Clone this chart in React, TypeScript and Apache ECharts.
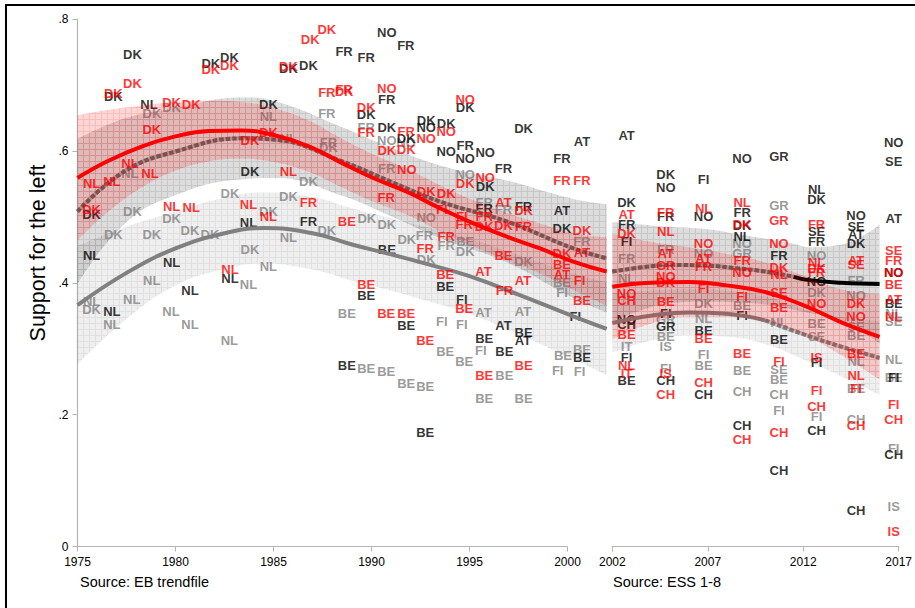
import React, { useEffect, useRef } from 'react';
import * as echarts from 'echarts';

type Pt = [number, number, string];

const FONT = '"Liberation Sans", Arial, sans-serif';

const yTicks = [0, 0.2, 0.4, 0.6, 0.8];
const ebTicks = [1975, 1980, 1985, 1990, 1995, 2000];
const essTicks = [2002, 2007, 2012, 2017];

// ---------- fitted curves (EB panel) ----------
const ebRedYears = [1975, 1976.5, 1978.3, 1980, 1981.7, 1983.4, 1985, 1986.8, 1988.4, 1990, 1991.8, 1993.5, 1995.2, 1996.9, 1998.6, 2000.3, 2002];
const ebRedFit = [0.559, 0.584, 0.607, 0.622, 0.63, 0.631, 0.624, 0.607, 0.583, 0.56, 0.538, 0.513, 0.49, 0.47, 0.452, 0.432, 0.417];
const ebRedHalf = [0.095, 0.078, 0.062, 0.052, 0.046, 0.043, 0.041, 0.039, 0.037, 0.036, 0.035, 0.035, 0.035, 0.036, 0.038, 0.043, 0.052];

const ebBlackYears = [1975, 1977.4, 1980, 1983.4, 1985.1, 1988.5, 1991, 1993.5, 1996.9, 2000.3, 2002];
const ebBlackFit = [0.508, 0.569, 0.599, 0.619, 0.617, 0.584, 0.553, 0.523, 0.493, 0.452, 0.437];
const ebBlackHalf = [0.11, 0.08, 0.066, 0.062, 0.058, 0.052, 0.052, 0.055, 0.062, 0.075, 0.082];

const ebGrayYears = [1975, 1977.5, 1980, 1982.5, 1984.5, 1987, 1989, 1991, 1993, 1995, 1997.5, 2000.3, 2002];
const ebGrayFit = [0.366, 0.415, 0.452, 0.475, 0.483, 0.475, 0.458, 0.443, 0.427, 0.41, 0.382, 0.349, 0.33];
const ebGrayHalf = [0.09, 0.07, 0.056, 0.054, 0.054, 0.055, 0.055, 0.055, 0.056, 0.057, 0.06, 0.065, 0.07];

// ---------- fitted curves (ESS panel) ----------
const essRedYears = [2002, 2004, 2006, 2008, 2010, 2012, 2014, 2016];
const essRedFit = [0.394, 0.4, 0.401, 0.396, 0.386, 0.366, 0.34, 0.318];
const essRedHalf = [0.08, 0.062, 0.053, 0.048, 0.045, 0.045, 0.05, 0.065];

const essBlackYears = [2002, 2004, 2005, 2007, 2008.5, 2010, 2011.5, 2012.3, 2014, 2016];
const essBlackFit = [0.417, 0.425, 0.427, 0.426, 0.422, 0.417, 0.409, 0.404, 0.4, 0.398];
const essBlackHalf = [0.075, 0.062, 0.058, 0.055, 0.052, 0.05, 0.05, 0.05, 0.058, 0.09];

const essGrayYears = [2002, 2004, 2006, 2008, 2010, 2012, 2014, 2016];
const essGrayFit = [0.339, 0.35, 0.355, 0.353, 0.343, 0.322, 0.303, 0.286];
const essGrayHalf = [0.045, 0.038, 0.035, 0.035, 0.036, 0.038, 0.045, 0.056];

// ---------- country labels (EB panel) ----------
const ebBlack: Pt[] = [
  [1977.8, 0.746, 'DK'], [1976.83, 0.683, 'DK'], [1978.65, 0.67, 'NL'], [1981.8, 0.733, 'DK'], [1982.75, 0.741, 'DK'],
  [1985.76, 0.725, 'DK'], [1986.78, 0.73, 'DK'], [1988.6, 0.751, 'FR'], [1984.74, 0.671, 'DK'], [1983.8, 0.569, 'DK'],
  [1975.72, 0.503, 'DK'], [1983.72, 0.492, 'NL'], [1986.78, 0.493, 'FR'], [1975.72, 0.442, 'NL'], [1979.8, 0.43, 'NL'],
  [1982.78, 0.407, 'NL'], [1980.74, 0.388, 'NL'], [1976.75, 0.356, 'NL'], [1988.74, 0.275, 'BE'], [1989.73, 0.38, 'BE'],
  [1991.77, 0.335, 'BE'], [1992.74, 0.173, 'BE'], [1993.76, 0.394, 'BE'], [1994.61, 0.375, 'FI'], [1995.75, 0.316, 'BE'],
  [1996.73, 0.335, 'AT'], [1996.78, 0.296, 'BE'], [1997.76, 0.324, 'BE'], [1997.73, 0.312, 'AT'], [2000.4, 0.349, 'FI'],
  [2000.74, 0.287, 'BE'], [1990.78, 0.78, 'NO'], [1991.75, 0.76, 'FR'], [1989.73, 0.741, 'FR'], [1990.78, 0.678, 'FR'],
  [1989.73, 0.655, 'DK'], [1990.78, 0.636, 'DK'], [1991.77, 0.619, 'DK'], [1992.79, 0.646, 'DK'], [1992.79, 0.636, 'NO'],
  [1993.81, 0.641, 'DK'], [1993.81, 0.599, 'NO'], [1994.78, 0.608, 'FR'], [1994.78, 0.589, 'NO'], [1995.8, 0.598, 'NO'],
  [1996.73, 0.573, 'FR'], [1995.8, 0.546, 'DK'], [1997.76, 0.634, 'DK'], [1994.78, 0.666, 'DK'], [2000.74, 0.614, 'AT'],
  [1999.72, 0.589, 'FR'], [1999.72, 0.509, 'AT'], [1999.72, 0.483, 'DK'], [1997.76, 0.516, 'FR'], [1995.75, 0.512, 'FR'],
  [1990.78, 0.45, 'BE'],
];

const ebRed: Pt[] = [
  [1977.8, 0.702, 'DK'], [1976.83, 0.687, 'DK'], [1979.8, 0.673, 'DK'], [1980.8, 0.671, 'DK'], [1978.79, 0.632, 'DK'],
  [1981.8, 0.723, 'DK'], [1982.75, 0.73, 'DK'], [1985.76, 0.728, 'DK'], [1986.87, 0.769, 'DK'], [1987.72, 0.784, 'DK'],
  [1987.72, 0.688, 'FR'], [1988.6, 0.693, 'FR'], [1988.6, 0.69, 'DK'], [1984.74, 0.628, 'DK'], [1983.8, 0.615, 'DK'],
  [1977.68, 0.581, 'NL'], [1975.72, 0.551, 'NL'], [1976.75, 0.554, 'NL'], [1978.7, 0.565, 'NL'], [1985.76, 0.569, 'NL'],
  [1986.78, 0.521, 'FR'], [1975.72, 0.511, 'DK'], [1979.8, 0.516, 'NL'], [1980.8, 0.514, 'NL'], [1983.72, 0.518, 'NL'],
  [1984.74, 0.5, 'NL'], [1988.74, 0.493, 'BE'], [1982.78, 0.42, 'NL'], [1989.73, 0.397, 'BE'], [1990.75, 0.354, 'BE'],
  [1991.77, 0.354, 'BE'], [1992.74, 0.312, 'BE'], [1993.76, 0.412, 'BE'], [1994.73, 0.361, 'BE'], [1995.75, 0.259, 'BE'],
  [1995.71, 0.417, 'AT'], [1996.78, 0.388, 'FR'], [1997.73, 0.403, 'AT'], [1997.76, 0.275, 'BE'], [1999.72, 0.412, 'AT'],
  [2000.62, 0.404, 'FI'], [2000.74, 0.373, 'BE'], [1990.78, 0.695, 'NO'], [1989.73, 0.666, 'DK'], [1989.73, 0.628, 'FR'],
  [1990.78, 0.6, 'DK'], [1991.77, 0.63, 'FR'], [1991.77, 0.602, 'DK'], [1991.8, 0.571, 'NO'], [1992.79, 0.619, 'NO'],
  [1993.81, 0.63, 'NO'], [1990.75, 0.529, 'FR'], [1992.74, 0.452, 'FR'], [1992.79, 0.538, 'DK'], [1993.81, 0.535, 'DK'],
  [1993.59, 0.511, 'FI'], [1994.61, 0.5, 'FI'], [1994.73, 0.488, 'FR'], [1993.81, 0.47, 'FR'], [1994.78, 0.678, 'NO'],
  [1994.78, 0.55, 'DK'], [1995.8, 0.559, 'NO'], [1999.72, 0.555, 'FR'], [2000.74, 0.555, 'FR'], [2000.74, 0.48, 'DK'],
  [1999.72, 0.445, 'DK'], [2000.74, 0.446, 'AT'], [1999.72, 0.428, 'BE'], [1997.76, 0.485, 'FR'], [1996.73, 0.487, 'DK'],
  [1995.75, 0.485, 'DK'], [1995.75, 0.5, 'FR'], [1997.76, 0.509, 'DK'], [1996.73, 0.521, 'AT'], [1996.73, 0.442, 'BE'],
];

const ebGray: Pt[] = [
  [1978.8, 0.657, 'DK'], [1979.8, 0.666, 'DK'], [1984.74, 0.652, 'NL'], [1987.72, 0.657, 'FR'], [1985.76, 0.619, 'NL'],
  [1987.8, 0.612, 'FR'], [1987.8, 0.605, 'DK'], [1977.68, 0.566, 'NL'], [1986.78, 0.554, 'DK'], [1982.78, 0.536, 'DK'],
  [1985.76, 0.531, 'DK'], [1977.8, 0.508, 'DK'], [1979.8, 0.498, 'DK'], [1984.74, 0.508, 'DK'], [1976.83, 0.473, 'DK'],
  [1978.79, 0.473, 'DK'], [1980.74, 0.48, 'DK'], [1981.76, 0.473, 'DK'], [1987.72, 0.48, 'DK'], [1985.76, 0.468, 'NL'],
  [1983.8, 0.45, 'DK'], [1984.74, 0.425, 'NL'], [1978.79, 0.404, 'NL'], [1983.72, 0.398, 'NL'], [1977.77, 0.374, 'NL'],
  [1975.72, 0.36, 'DK'], [1975.72, 0.371, 'NL'], [1976.75, 0.336, 'NL'], [1979.77, 0.356, 'NL'], [1980.74, 0.336, 'NL'],
  [1982.75, 0.312, 'NL'], [1988.74, 0.354, 'BE'], [1989.73, 0.27, 'BE'], [1990.75, 0.265, 'BE'], [1991.77, 0.247, 'BE'],
  [1992.74, 0.242, 'BE'], [1993.59, 0.341, 'FI'], [1993.76, 0.296, 'BE'], [1994.61, 0.336, 'FI'], [1994.73, 0.28, 'BE'],
  [1995.71, 0.355, 'AT'], [1995.58, 0.297, 'FI'], [1995.75, 0.225, 'BE'], [1996.78, 0.259, 'BE'], [1997.73, 0.356, 'AT'],
  [1997.76, 0.225, 'BE'], [1999.72, 0.4, 'BE'], [1999.72, 0.385, 'FI'], [1999.77, 0.289, 'BE'], [1999.5, 0.267, 'FI'],
  [2000.74, 0.299, 'BE'], [2000.62, 0.265, 'FI'], [1989.73, 0.636, 'FR'], [1990.78, 0.615, 'NO'], [1990.78, 0.574, 'FR'],
  [1989.76, 0.498, 'DK'], [1990.78, 0.488, 'DK'], [1991.8, 0.465, 'DK'], [1992.7, 0.471, 'FR'], [1992.79, 0.435, 'DK'],
  [1992.79, 0.499, 'NO'], [1993.81, 0.457, 'FR'], [1994.78, 0.462, 'BE'], [1994.78, 0.447, 'DK'], [1994.78, 0.564, 'NO'],
  [1995.75, 0.521, 'FR'], [1996.73, 0.511, 'FR'], [2000.74, 0.462, 'FR'], [1997.76, 0.432, 'DK'], [1991.77, 0.612, 'NO'],
];

// ---------- country labels (ESS panel) ----------
const essBlack: Pt[] = [
  [2002.75, 0.623, 'AT'], [2002.75, 0.521, 'DK'], [2002.75, 0.488, 'FR'], [2002.75, 0.462, 'FI'], [2002.75, 0.344, 'NO'],
  [2002.75, 0.336, 'CH'], [2002.75, 0.286, 'FI'], [2002.75, 0.252, 'BE'],
  [2004.8, 0.564, 'DK'], [2004.8, 0.545, 'NO'], [2004.8, 0.5, 'FR'], [2004.8, 0.354, 'FI'], [2004.8, 0.333, 'GR'], [2004.8, 0.252, 'CH'],
  [2006.78, 0.557, 'FI'], [2006.78, 0.5, 'NO'], [2006.78, 0.327, 'BE'], [2006.78, 0.23, 'CH'],
  [2008.8, 0.589, 'NO'], [2008.8, 0.507, 'FR'], [2008.8, 0.487, 'DK'], [2008.8, 0.47, 'NL'], [2008.8, 0.351, 'FI'], [2008.8, 0.183, 'CH'],
  [2010.73, 0.592, 'GR'], [2010.73, 0.442, 'FR'], [2010.73, 0.314, 'BE'], [2010.73, 0.116, 'CH'],
  [2012.7, 0.542, 'NL'], [2012.7, 0.527, 'DK'], [2012.7, 0.478, 'SE'], [2012.7, 0.462, 'FR'], [2012.7, 0.402, 'NO'],
  [2012.7, 0.279, 'FI'], [2012.7, 0.176, 'CH'],
  [2014.77, 0.502, 'NO'], [2014.77, 0.486, 'SE'], [2014.77, 0.473, 'AT'], [2014.77, 0.459, 'DK'], [2014.77, 0.055, 'CH'],
  [2016.74, 0.612, 'NO'], [2016.74, 0.584, 'SE'], [2016.74, 0.498, 'AT'], [2016.74, 0.415, 'NO'], [2016.74, 0.369, 'BE'],
  [2016.74, 0.257, 'FI'], [2016.74, 0.14, 'CH'],
];

const essRed: Pt[] = [
  [2002.75, 0.503, 'AT'], [2002.75, 0.475, 'DK'], [2002.75, 0.384, 'NO'], [2002.75, 0.373, 'CH'], [2002.75, 0.322, 'BE'],
  [2002.75, 0.275, 'NL'], [2002.75, 0.263, 'IT'],
  [2004.8, 0.506, 'FR'], [2004.8, 0.478, 'NL'], [2004.8, 0.445, 'AT'], [2004.8, 0.426, 'GR'], [2004.8, 0.409, 'NO'],
  [2004.8, 0.401, 'DK'], [2004.8, 0.371, 'BE'], [2004.8, 0.263, 'IS'], [2004.8, 0.23, 'CH'],
  [2006.78, 0.512, 'NL'], [2006.78, 0.459, 'NO'], [2006.78, 0.437, 'AT'], [2006.78, 0.425, 'FR'], [2006.78, 0.392, 'FI'],
  [2006.78, 0.316, 'BE'], [2006.78, 0.249, 'CH'],
  [2008.8, 0.521, 'NL'], [2008.8, 0.489, 'DK'], [2008.8, 0.434, 'FR'], [2008.8, 0.415, 'NO'], [2008.8, 0.379, 'FI'],
  [2008.8, 0.293, 'BE'], [2008.8, 0.162, 'CH'],
  [2010.73, 0.495, 'GR'], [2010.73, 0.459, 'NO'], [2010.73, 0.423, 'DK'], [2010.73, 0.413, 'NL'], [2010.73, 0.385, 'SE'],
  [2010.73, 0.363, 'BE'], [2010.73, 0.28, 'FI'], [2010.73, 0.173, 'CH'],
  [2012.7, 0.488, 'FR'], [2012.7, 0.43, 'NL'], [2012.7, 0.422, 'DK'], [2012.7, 0.415, 'FR'], [2012.7, 0.369, 'NO'],
  [2012.7, 0.286, 'IS'], [2012.7, 0.237, 'FI'], [2012.7, 0.213, 'CH'],
  [2014.77, 0.434, 'AT'], [2014.77, 0.428, 'SE'], [2014.77, 0.368, 'DK'], [2014.77, 0.349, 'NO'], [2014.77, 0.293, 'BE'],
  [2014.77, 0.259, 'NL'], [2014.77, 0.24, 'FI'], [2014.77, 0.183, 'CH'],
  [2016.74, 0.449, 'SE'], [2016.74, 0.434, 'FR'], [2016.74, 0.415, 'NO'], [2016.74, 0.397, 'BE'], [2016.74, 0.375, 'AT'],
  [2016.74, 0.349, 'NL'], [2016.74, 0.215, 'FI'], [2016.74, 0.192, 'CH'], [2016.74, 0.022, 'IS'],
];

const essGray: Pt[] = [
  [2002.75, 0.437, 'FR'], [2002.75, 0.407, 'NL'], [2002.75, 0.303, 'IT'],
  [2004.8, 0.451, 'FR'], [2004.8, 0.345, 'GR'], [2004.8, 0.318, 'BE'], [2004.8, 0.304, 'IS'], [2004.8, 0.27, 'FI'],
  [2006.78, 0.444, 'NO'], [2006.78, 0.369, 'DK'], [2006.78, 0.346, 'NL'], [2006.78, 0.291, 'FI'], [2006.78, 0.275, 'BE'],
  [2008.8, 0.46, 'NO'], [2008.8, 0.445, 'GR'], [2008.8, 0.365, 'BE'], [2008.8, 0.267, 'BE'], [2008.8, 0.235, 'CH'],
  [2010.73, 0.517, 'GR'], [2010.73, 0.34, 'NL'], [2010.73, 0.268, 'SE'], [2010.73, 0.254, 'BE'], [2010.73, 0.23, 'CH'],
  [2010.73, 0.206, 'FI'],
  [2012.7, 0.442, 'NO'], [2012.7, 0.385, 'DK'], [2012.7, 0.338, 'BE'], [2012.7, 0.319, 'SE'], [2012.7, 0.197, 'FI'],
  [2014.77, 0.404, 'FR'], [2014.77, 0.38, 'NO'], [2014.77, 0.333, 'SE'], [2014.77, 0.32, 'BE'], [2014.77, 0.28, 'NL'],
  [2014.77, 0.24, 'BE'], [2014.77, 0.192, 'CH'],
  [2016.74, 0.354, 'NL'], [2016.74, 0.341, 'SE'], [2016.74, 0.283, 'NL'], [2016.74, 0.257, 'BE'], [2016.74, 0.149, 'FI'],
  [2016.74, 0.06, 'IS'],
];

// ---------- helpers ----------
const pairs = (xs: number[], ys: number[]) => xs.map((x, i) => [x, ys[i]]);
const SMOOTH = 0.45;

// translucent fill with a fine grid texture
function meshFill(fill: string, grid: string) {
  const size = 6;
  const c = document.createElement('canvas');
  c.width = size;
  c.height = size;
  const ctx = c.getContext('2d');
  if (!ctx) return fill;
  ctx.fillStyle = fill;
  ctx.fillRect(0, 0, size, size);
  ctx.fillStyle = grid;
  ctx.fillRect(size - 1, 0, 1, size);
  ctx.fillRect(0, size - 1, size - 1, 1);
  return { image: c.toDataURL(), repeat: 'repeat', imageWidth: size, imageHeight: size } as any;
}

// Band = lower edge + stacked span. Data stored as [value, year] so that the
// stack is applied to the value (y) dimension.
function band(id: string, g: number, xs: number[], fit: number[], half: number[], color: any, z: number) {
  const lo = xs.map((x, i) => [fit[i] - half[i], x]);
  const span = xs.map((x, i) => [2 * half[i], x]);
  const common = {
    type: 'line', xAxisIndex: g, yAxisIndex: g, stack: id, smooth: SMOOTH, symbol: 'none',
    encode: { x: 1, y: 0 }, lineStyle: { opacity: 0, width: 0 }, silent: true, z,
  };
  return [
    { ...common, data: lo },
    { ...common, data: span, areaStyle: { color, opacity: 1 } },
  ];
}

function line(g: number, data: number[][], color: string, z: number, dash?: number[]) {
  return {
    type: 'line', xAxisIndex: g, yAxisIndex: g, data, smooth: SMOOTH, symbol: 'none', silent: true, z,
    lineStyle: { color, width: 4, type: dash ? dash : 'solid', cap: 'butt' },
  };
}

function hatched(g: number, data: number[][], base: string, dark: string, z: number) {
  return [line(g, data, base, z), line(g, data, dark, z, [4.5, 2])];
}

function labels(g: number, pts: Pt[], color: string, z: number) {
  return {
    type: 'scatter', xAxisIndex: g, yAxisIndex: g, z, silent: true, clip: false,
    data: pts.map((p) => ({ value: [p[0], p[1]], name: p[2] })),
    symbolSize: 1, itemStyle: { color: 'rgba(0,0,0,0)' },
    label: { show: true, position: 'inside', formatter: '{b}', color, fontSize: 13, fontWeight: 'bold', fontFamily: FONT },
    emphasis: { disabled: true },
  };
}

const GRAY = '#808080';
const axisGray = '#b4b4b4';

function buildOption() {
  const RED_BAND = meshFill('rgba(255,0,0,0.16)', 'rgba(230,0,0,0.12)');
  const BLACK_BAND = meshFill('rgba(0,0,0,0.135)', 'rgba(0,0,0,0.1)');
  const GRAY_BAND = meshFill('rgba(128,128,128,0.13)', 'rgba(90,90,90,0.1)');

  const ebBlackLine = pairs(ebBlackYears, ebBlackFit);
  const essBlackLine = pairs(essBlackYears, essBlackFit);
  const essGrayLine = pairs(essGrayYears, essGrayFit);
  const bSplit = essBlackYears.indexOf(2011.5);
  const gSplit = essGrayYears.indexOf(2010);

  const series: any[] = [
    // EB panel
    ...band('ebGray', 0, ebGrayYears, ebGrayFit, ebGrayHalf, GRAY_BAND, 1),
    ...band('ebBlack', 0, ebBlackYears, ebBlackFit, ebBlackHalf, BLACK_BAND, 1),
    labels(0, ebGray, GRAY, 2),
    labels(0, ebBlack, '#000', 3),
    line(0, pairs(ebGrayYears, ebGrayFit), GRAY, 4),
    ...hatched(0, ebBlackLine, '#acacac', '#626262', 4),
    ...band('ebRed', 0, ebRedYears, ebRedFit, ebRedHalf, RED_BAND, 5),
    labels(0, ebRed, '#ff0000', 6),
    line(0, pairs(ebRedYears, ebRedFit), '#ff0000', 7),
    // x axis baseline for EB panel (1975-2000 only)
    { type: 'line', xAxisIndex: 0, yAxisIndex: 0, data: [[ebTicks[0], 0], [ebTicks[ebTicks.length - 1], 0]], symbol: 'none', silent: true, z: 1, lineStyle: { color: axisGray, width: 1.2 } },

    // ESS panel
    ...band('essGray', 1, essGrayYears, essGrayFit, essGrayHalf, GRAY_BAND, 1),
    ...band('essBlack', 1, essBlackYears, essBlackFit, essBlackHalf, BLACK_BAND, 1),
    labels(1, essGray, GRAY, 2),
    labels(1, essBlack, '#000', 3),
    line(1, essGrayLine.slice(0, gSplit + 1), GRAY, 4),
    ...hatched(1, essGrayLine.slice(gSplit), '#c4c4c4', '#7c7c7c', 4),
    ...hatched(1, essBlackLine.slice(0, bSplit + 1), '#acacac', '#626262', 4),
    line(1, essBlackLine.slice(bSplit), '#000', 4),
    ...band('essRed', 1, essRedYears, essRedFit, essRedHalf, RED_BAND, 5),
    labels(1, essRed, '#ff0000', 6),
    line(1, pairs(essRedYears, essRedFit), '#ff0000', 7),
  ];

  const tickLabel = { fontSize: 12, color: '#000', fontFamily: FONT, formatter: (v: number) => String(v) };

  return {
    animation: false,
    tooltip: { show: false },
    grid: [
      { left: 77.5, top: 19, width: 529.2, height: 527.5 },
      { left: 612.3, top: 19, width: 291, height: 527.5 },
    ],
    xAxis: [
      {
        type: 'value', gridIndex: 0, min: 1975, max: 2002,
        axisLine: { show: false },
        axisTick: { show: true, length: 5, lineStyle: { color: axisGray }, customValues: ebTicks },
        axisLabel: { ...tickLabel, margin: 9, customValues: ebTicks },
        splitLine: { show: false },
      },
      {
        type: 'value', gridIndex: 1, min: 2002, max: 2017,
        axisLine: { show: true, lineStyle: { color: axisGray, width: 1.2 } },
        axisTick: { show: true, length: 5, lineStyle: { color: axisGray }, customValues: essTicks },
        axisLabel: { ...tickLabel, margin: 9, customValues: essTicks },
        splitLine: { show: false },
      },
    ],
    yAxis: [
      {
        type: 'value', gridIndex: 0, min: 0, max: 0.8, interval: 0.2,
        axisLine: { show: true, lineStyle: { color: axisGray, width: 1.2 } },
        axisTick: { show: true, length: 5, lineStyle: { color: axisGray }, customValues: yTicks },
        axisLabel: {
          ...tickLabel, margin: 9, customValues: yTicks,
          formatter: (v: number) => (v === 0 ? '0' : v.toFixed(1).replace(/^0/, '')),
        },
        splitLine: { show: false },
      },
      { type: 'value', gridIndex: 1, min: 0, max: 0.8, show: false },
    ],
    graphic: [
      { type: 'rect', shape: { x: 6, y: 5, width: 1000, height: 1000 }, style: { fill: 'none', stroke: '#000', lineWidth: 2 }, silent: true },
      {
        type: 'text', x: 38, y: 253, rotation: Math.PI / 2, silent: true,
        style: { text: 'Support for the left', font: `21.5px ${FONT}`, fill: '#000', align: 'center', verticalAlign: 'middle' },
      },
      { type: 'text', left: 80, top: 574, style: { text: 'Source: EB trendfile', font: `14.5px ${FONT}`, fill: '#000' }, silent: true },
      { type: 'text', left: 613, top: 574, style: { text: 'Source: ESS 1-8', font: `14.5px ${FONT}`, fill: '#000' }, silent: true },
    ],
    series,
  };
}

export default function App() {
  const ref = useRef<HTMLDivElement>(null);
  useEffect(() => {
    document.body.style.margin = '0';
    const chart = echarts.init(ref.current!, null, { renderer: 'svg' });
    chart.setOption(buildOption() as any);
    return () => chart.dispose();
  }, []);
  return <div ref={ref} style={{ width: 915, height: 608, background: '#fff' }} />;
}
